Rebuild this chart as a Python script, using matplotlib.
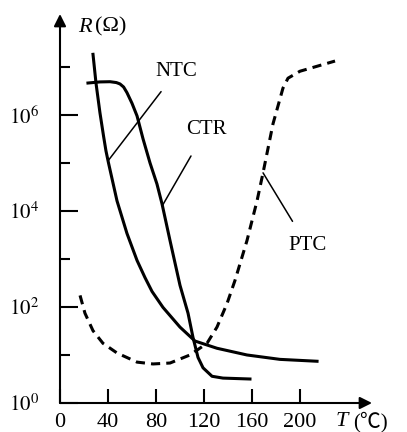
import matplotlib.pyplot as plt
import numpy as np

plt.rcParams['font.family'] = ['Liberation Serif', 'DejaVu Serif']
plt.rcParams['mathtext.fontset'] = 'stix'

# values (T in degC, R in ohm)
ntc_t = [27.5, 30, 33.3, 36.3, 38.3, 40.4, 47.5, 55.8, 64.2, 70.8, 76.7, 85.8, 100, 112.5, 130.8, 155.8, 183.3, 214.2]
ntc_r = [1.82e7, 4.57e6, 1.1e6, 3.6e5, 1.78e5, 1.0e5, 1.62e4, 3.4e3, 930, 410, 210, 98, 38, 19.5, 13.8, 10, 8.1, 7.4]

ctr_t = [23.3, 33.3, 41.7, 47, 50, 53, 55.8, 60, 64.2, 69.2, 75, 80.8, 85, 91.7, 100, 106.7, 110.8, 115, 119.2,
         126.7, 135.8, 158.3]
ctr_r = [4.6e6, 4.85e6, 4.9e6, 4.7e6, 4.4e6, 3.8e6, 2.9e6, 1.74e6, 9.5e5, 3.16e5, 1.0e5, 3.63e4, 1.41e4, 2.4e3,
         282, 74, 23.4, 8.9, 5.4, 3.6, 3.3, 3.16]

ptc_t = [16.7, 20.8, 27.5, 35.8, 47.5, 64.2, 77.5, 91.7, 108.3, 122.5, 130.8, 139.2, 145.8, 155.8, 164.2, 169.2,
         177.5, 185.8, 190, 200, 229.2]
ptc_r = [174, 74, 32, 17.5, 11, 7.1, 6.5, 6.8, 10, 17.5, 38, 118, 355, 2.4e3, 1.62e4, 6.2e4,
         6.5e5, 3.6e6, 5.8e6, 8.1e6, 1.32e7]

xticks = [0, 40, 80, 120, 160, 200]
ymajor = [1, 1e2, 1e4, 1e6]
yminor = [1e1, 1e3, 1e5, 1e7]
ylabels = ['$10^0$', '$10^2$', '$10^4$', '$10^6$']

fig = plt.figure(figsize=(4.07, 4.32), dpi=100)
ax = fig.add_axes([60 / 407, 29 / 432, 312 / 407, 389 / 432])
ax.set_yscale('log')
ax.set_xlim(0, 260)
ax.set_ylim(1, 10 ** 8.1)

ax.plot(ntc_t, ntc_r, color='k', lw=2.2, solid_joinstyle='round')
ax.plot(ctr_t, ctr_r, color='k', lw=2.2, solid_joinstyle='round')
ax.plot(ptc_t, ptc_r, color='k', lw=2.2, linestyle=(0, (3, 2)))

for s in ax.spines.values():
    s.set_visible(False)
arrow = dict(arrowstyle='-|>', lw=1.5, color='k', mutation_scale=18, shrinkA=0, shrinkB=0)
ax.annotate('', xy=(1, 0), xytext=(0, 0), xycoords='axes fraction', arrowprops=arrow)
ax.annotate('', xy=(0, 1), xytext=(0, 0), xycoords='axes fraction', arrowprops=arrow)

ax.set_xticks(xticks)
ax.set_xticklabels([str(v) for v in xticks])
ax.tick_params(axis='x', direction='in', length=10, width=1.5, pad=7, labelsize=16)
ax.set_yticks(ymajor)
ax.set_yticklabels(ylabels)
ax.set_yticks(yminor, minor=True)
ax.yaxis.set_minor_formatter(plt.NullFormatter())
ax.tick_params(axis='y', which='major', direction='in', length=13, width=1.5, pad=15, labelsize=15)
ax.tick_params(axis='y', which='minor', direction='in', length=7.5, width=1.5)

# labels with pointer lines
ax.annotate('NTC', xy=(40, 1.1e5), xytext=(97, 10 ** 6.9), fontsize=15, ha='center', va='center',
            arrowprops=dict(arrowstyle='-', lw=1.1, color='k', shrinkA=7, shrinkB=0))
ax.annotate('CTR', xy=(85.4, 1.3e4), xytext=(122, 10 ** 5.7), fontsize=15, ha='center', va='center',
            arrowprops=dict(arrowstyle='-', lw=1.1, color='k', shrinkA=12, shrinkB=0))
ax.annotate('PTC', xy=(169.2, 6.2e4), xytext=(206, 10 ** 3.28), fontsize=15, ha='center', va='center',
            arrowprops=dict(arrowstyle='-', lw=1.1, color='k', shrinkA=10, shrinkB=0))

fig.text(78 / 407, 1 - 27 / 432, 'R', fontsize=16, style='italic', ha='left', va='center')
fig.text(95 / 407, 1 - 27 / 432, '(Ω)', fontsize=16, ha='left', va='center')
fig.text(336 / 407, 1 - 422 / 432, 'T', fontsize=16, style='italic', ha='left', va='center')
fig.text(353 / 407, 1 - 422 / 432, '(℃)', fontsize=15, ha='left', va='center',
         family=['Liberation Serif', 'Noto Sans CJK SC', 'DejaVu Serif'])

fig.savefig('out.png', dpi=100)
